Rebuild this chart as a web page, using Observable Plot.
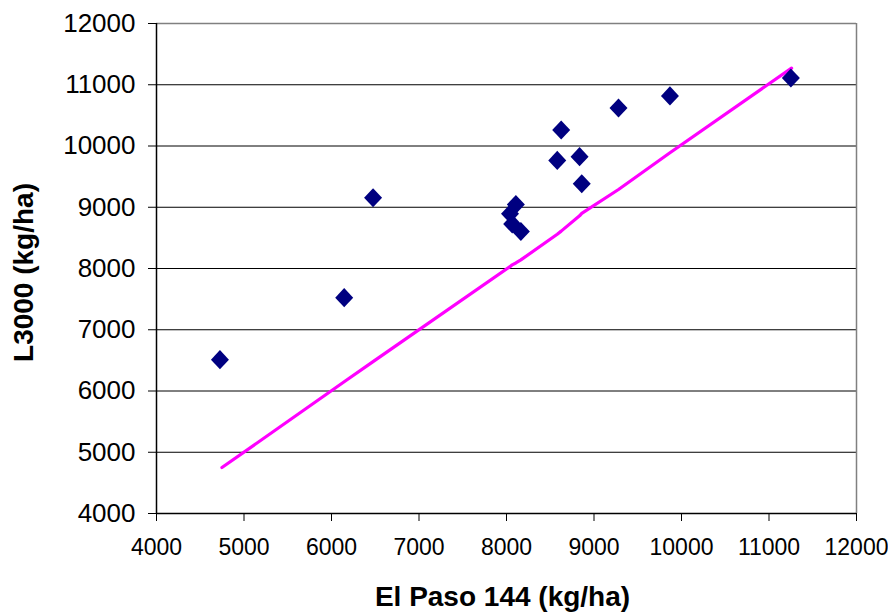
<!DOCTYPE html>
<html>
<head>
<meta charset="utf-8">
<script src="https://cdn.jsdelivr.net/npm/d3@7"></script>
<script src="https://cdn.jsdelivr.net/npm/@observablehq/plot@0.6"></script>
<style>
  html, body { margin: 0; padding: 0; background: #fff; }
  #chart svg { display: block; }
</style>
</head>
<body>
<div id="chart"></div>
<script>
// Scatter points: El Paso 144 (x) vs L3000 (y), kg/ha
const elPaso = [4725, 6145, 6475, 8040, 8107, 8065, 8164, 8580, 8625, 8835, 8860, 9280, 9868, 11250];
const l3000  = [6512, 7524, 9154, 8893, 9045, 8728, 8605, 9765, 10262, 9826, 9385, 10620, 10818, 11110];

// Magenta line
const lineX = [4748, 6145, 6475, 8040, 8065, 8107, 8164, 8580, 8625, 8835, 8860, 9280, 9868, 11258];
const lineY = [4750, 6150, 6480, 8030, 8060, 8090, 8140, 8560, 8610, 8860, 8900, 9290, 9890, 11272];

const xTicks = [4000, 5000, 6000, 7000, 8000, 9000, 10000, 11000, 12000];
const yTicks = [4000, 5000, 6000, 7000, 8000, 9000, 10000, 11000, 12000];
const innerGrid = [5000, 6000, 7000, 8000, 9000, 10000, 11000];

const xTitle = "El Paso 144 (kg/ha)";
const yTitle = "L3000 (kg/ha)";

const points = elPaso.map((x, i) => ({x, y: l3000[i]}));
const linePts = lineX.map((x, i) => ({x, y: lineY[i]}));

const diamond = {
  draw(context, size) {
    const r = Math.sqrt(size / Math.PI);
    const hw = r, hh = r * 1.06;
    context.moveTo(0, -hh);
    context.lineTo(hw, 0);
    context.lineTo(0, hh);
    context.lineTo(-hw, 0);
    context.closePath();
  }
};

const font = "'Liberation Sans', Arial, sans-serif";

const chart = Plot.plot({
  width: 888,
  height: 613,
  marginLeft: 156,
  marginRight: 32,
  marginTop: 23,
  marginBottom: 100,
  style: { fontFamily: font, background: "#fff", overflow: "visible" },
  x: { domain: [4000, 12000] },
  y: { domain: [4000, 12000] },
  marks: [
    Plot.ruleY(innerGrid, { stroke: "#000", strokeWidth: 1 }),
    Plot.ruleY([12000], { stroke: "#808080", strokeWidth: 1.5 }),
    Plot.ruleX([12000], { stroke: "#808080", strokeWidth: 1.5 }),
    Plot.axisY({ ticks: yTicks, tickFormat: d => String(d), tickSize: 8, tickPadding: 13, fontSize: 26, label: null, stroke: "#000", fill: "#000" }),
    Plot.axisX({ ticks: xTicks, tickFormat: d => String(d), tickSize: 8, tickPadding: 17, fontSize: 23, label: null, stroke: "#000", fill: "#000" }),
    Plot.ruleX([4000], { stroke: "#000", strokeWidth: 1.5 }),
    Plot.ruleY([4000], { stroke: "#000", strokeWidth: 1.5 }),
    Plot.line(linePts, { x: "x", y: "y", stroke: "#FF00FF", strokeWidth: 3.2 }),
    Plot.dot(points, { x: "x", y: "y", symbol: diamond, r: 9, fill: "#000080", stroke: "none" }),
    Plot.text([xTitle], { text: d => d, frameAnchor: "bottom", textAnchor: "middle", lineAnchor: "middle", dx: -4, dy: 84, fontSize: 28, fontWeight: "bold", fill: "#000" }),
    Plot.text([yTitle], { text: d => d, frameAnchor: "left", textAnchor: "middle", lineAnchor: "middle", dx: -132, dy: 4, rotate: -90, fontSize: 28, fontWeight: "bold", fill: "#000" })
  ]
});

document.getElementById("chart").appendChild(chart);
</script>
</body>
</html>
